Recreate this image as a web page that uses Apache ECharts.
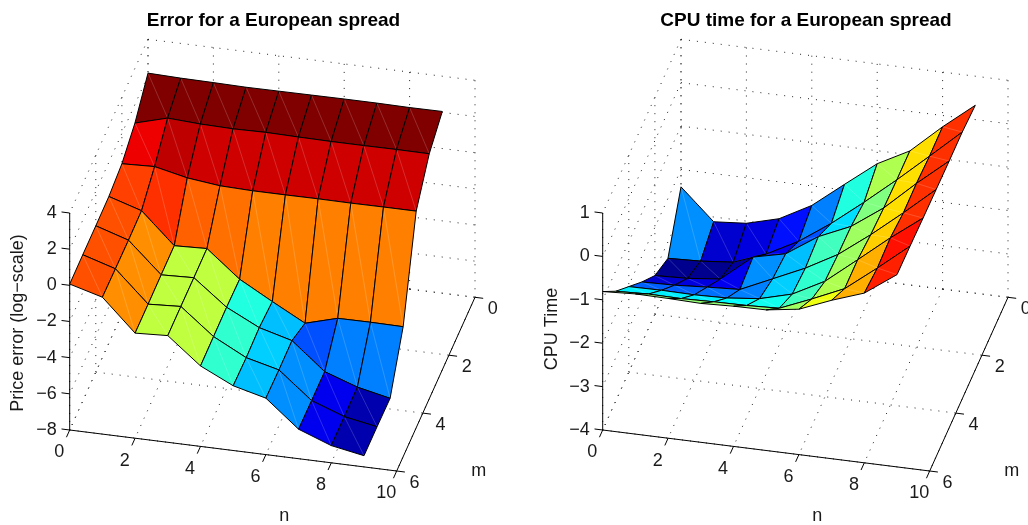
<!DOCTYPE html>
<html><head><meta charset="utf-8">
<style>html,body{margin:0;padding:0;background:#fff}#c{width:1028px;height:525px}</style>
<script src="https://cdn.jsdelivr.net/npm/echarts@6/dist/echarts.min.js"></script>
</head><body><div id="c"></div>
<script>
// ---- tick values and labels ----
const nTicks = [0, 2, 4, 6, 8, 10];
const mTicks = [0, 2, 4, 6];
const errorZTicks = [-8, -6, -4, -2, 0, 2, 4];
const cpuZTicks = [-4, -3, -2, -1, 0, 1];

// ---- Price error (log-scale), one row per m (0..6), one value per n (0..9) ----
const errorM0 = [2.13, 2.08, 2.06, 2.03, 2.04, 2.05, 2.06, 2.06, 2.04, 2.05];
const errorM1 = [0.97, 1.47, 1.37, 1.33, 1.36, 1.33, 1.31, 1.31, 1.32, 1.31];
const errorM2 = [0.32, 0.39, -0.01, -0.22, -0.27, -0.27, -0.26, -0.27, -0.26, -0.26];
const errorM3 = [0.11, -0.45, -2.16, -2.09, -3.56, -4.57, -5.54, -5.04, -5.03, -5.05];
const errorM4 = [0.09, -0.48, -2.17, -2.10, -3.51, -4.41, -4.90, -6.39, -7.02, -7.41];
const errorM5 = [0.09, -0.46, -2.19, -2.09, -3.53, -4.47, -4.92, -6.39, -7.05, -7.38];
const errorM6 = [0.07, -0.43, -2.19, -2.10, -3.55, -4.42, -4.88, -6.37, -7.05, -7.38];

// ---- CPU time, one row per m (0..6), one value per n (0..9) ----
const cpuM0 = [-2.40, -3.11, -3.05, -2.85, -2.45, -1.87, -1.30, -0.91, -0.26, 0.33];
const cpuM1 = [-3.38, -3.35, -3.28, -3.00, -2.61, -2.10, -1.52, -0.91, -0.27, 0.38];
const cpuM2 = [-3.11, -3.08, -3.00, -2.40, -2.23, -1.74, -1.41, -0.89, -0.23, 0.38];
const cpuM3 = [-2.59, -2.57, -2.52, -2.48, -2.14, -1.80, -1.39, -0.84, -0.24, 0.39];
const cpuM4 = [-2.03, -2.02, -2.03, -2.01, -1.93, -1.73, -1.34, -0.75, -0.15, 0.40];
const cpuM5 = [-1.47, -1.44, -1.45, -1.43, -1.42, -1.39, -1.08, -0.75, -0.18, 0.42];
const cpuM6 = [-0.81, -0.77, -0.78, -0.80, -0.77, -0.76, -0.65, -0.35, -0.09, 0.43];

const errorRows = [errorM0, errorM1, errorM2, errorM3, errorM4, errorM5, errorM6];
const cpuRows = [cpuM0, cpuM1, cpuM2, cpuM3, cpuM4, cpuM5, cpuM6];

// ---- view of the 3-D box, in projection units (one unit is one pixel on the grid) ----
const N_SPAN = [327, -41], M_SPAN = [78.3, 173.7], Z_SPAN = 217;
const N_MAX = 10, M_MAX = 6;
const FONT = '"Liberation Sans", Arial, Helvetica, sans-serif';
const TICK_FONT = 18, TITLE_FONT = 19;

function jet(t) {
  const i = Math.min(63, Math.max(0, Math.floor(t * 64))) + 1, v = i / 64;
  const c = x => Math.round(255 * Math.max(0, Math.min(1, x)));
  return 'rgb(' + c(Math.min(4 * v - 1.5, -4 * v + 4.5)) + ',' + c(Math.min(4 * v - 0.5, -4 * v + 3.5)) + ',' + c(Math.min(4 * v + 0.5, -4 * v + 2.5)) + ')';
}

function makeProjector(zMin, zMax) {
  return function (n, m, z) {
    const a = n / N_MAX, b = 1 - m / M_MAX, c = (z - zMin) / (zMax - zMin);
    return [a * N_SPAN[0] + b * M_SPAN[0], a * N_SPAN[1] + b * M_SPAN[1] + c * Z_SPAN];
  };
}

function chartSeries(index, rows, zTicks, zTitle, zTitleDx, zTitleDy, mTitle, nTitle) {
  const zMin = zTicks[0], zMax = zTicks[zTicks.length - 1];
  const P = makeProjector(zMin, zMax);
  const all = rows.flat();
  const cMin = Math.min(...all), cMax = Math.max(...all);

  // dotted grid and solid axes
  const lines = [];
  nTicks.forEach(n => {
    lines.push([n, 0, zMin, n, M_MAX, zMin, 1]);
    lines.push([n, 0, zMin, n, 0, zMax, 1]);
    lines.push([n, M_MAX, zMin, n, M_MAX + 0.25, zMin, 0]);
  });
  mTicks.forEach(m => {
    lines.push([0, m, zMin, N_MAX, m, zMin, 1]);
    lines.push([0, m, zMin, 0, m, zMax, 1]);
    lines.push([N_MAX, m, zMin, N_MAX + 0.25, m, zMin, 0]);
  });
  zTicks.forEach(z => {
    lines.push([0, 0, z, N_MAX, 0, z, 1]);
    lines.push([0, 0, z, 0, M_MAX, z, 1]);
    lines.push([0, M_MAX, z, -0.25, M_MAX, z, 0]);
  });
  lines.push([0, M_MAX, zMin, N_MAX, M_MAX, zMin, 0]);
  lines.push([N_MAX, 0, zMin, N_MAX, M_MAX, zMin, 0]);
  lines.push([0, M_MAX, zMin, 0, M_MAX, zMax, 0]);

  const faces = [];
  for (let m = 0; m < rows.length - 1; m++)
    for (let n = 0; n < rows[m].length - 1; n++)
      faces.push([n, m, rows[m][n], rows[m][n + 1], rows[m + 1][n + 1], rows[m + 1][n]]);

  const labels = [];
  const f = s => String(s).replace('-', '\u2212');
  nTicks.forEach(n => labels.push({ p: [n, M_MAX, zMin], dx: -10.4, dy: 22.4, s: f(n), align: 'center' }));
  mTicks.forEach(m => labels.push({ p: [N_MAX, m, zMin], dx: 17.8, dy: 12, s: f(m), align: 'center' }));
  zTicks.forEach(z => labels.push({ p: [0, M_MAX, z], dx: -13, dy: 0, s: f(z), align: 'right' }));
  labels.push({ p: [N_MAX / 2, M_MAX, zMin], dx: 51, dy: 66, s: nTitle, align: 'center' });
  labels.push({ p: [N_MAX, M_MAX / 2, zMin], dx: 43, dy: 87, s: mTitle, align: 'center' });
  labels.push({ p: [0, M_MAX, zMin], dx: zTitleDx, dy: zTitleDy, s: zTitle, align: 'center', rot: 90 });

  const base = { type: 'custom', xAxisIndex: index, yAxisIndex: index, silent: true, animation: false, coordinateSystem: 'cartesian2d', clip: false };
  const pt = (api, n, m, z) => api.coord(P(n, m, z));

  return [
    Object.assign({}, base, {
      name: 'axes' + index, data: lines.map((l, i) => [l[0], l[1], i]), encode: { x: 0, y: 1 }, z: 1,
      renderItem(params, api) {
        const l = lines[api.value(2)], a = pt(api, l[0], l[1], l[2]), b = pt(api, l[3], l[4], l[5]);
        return { type: 'line', shape: { x1: a[0], y1: a[1], x2: b[0], y2: b[1] },
          style: l[6] ? { stroke: '#222', lineWidth: 1, lineDash: [1, 7] } : { stroke: '#000', lineWidth: 1 } };
      }
    }),
    Object.assign({}, base, {
      name: 'surface' + index, data: faces, encode: { x: 0, y: 1 }, z: 2,
      renderItem(params, api) {
        const n = api.value(0), m = api.value(1);
        const a = pt(api, n, m, api.value(2)), b = pt(api, n + 1, m, api.value(3));
        const c = pt(api, n + 1, m + 1, api.value(4)), d = pt(api, n, m + 1, api.value(5));
        const points = [a, b, c, d];
        return { type: 'group', children: [
          { type: 'polygon', shape: { points }, style: { fill: jet((api.value(2) - cMin) / (cMax - cMin)), stroke: null } },
          { type: 'line', shape: { x1: a[0], y1: a[1], x2: c[0], y2: c[1] }, style: { stroke: 'rgba(255,255,255,0.22)', lineWidth: 0.8 } },
          { type: 'polygon', shape: { points }, style: { fill: 'none', stroke: '#000', lineWidth: 1, lineJoin: 'round' } }
        ] };
      }
    }),
    Object.assign({}, base, {
      name: 'labels' + index, data: labels.map((l, i) => [l.p[0], l.p[1], i]), encode: { x: 0, y: 1 }, z: 3,
      renderItem(params, api) {
        const l = labels[api.value(2)], a = pt(api, l.p[0], l.p[1], l.p[2]);
        return { type: 'text', x: a[0] + l.dx, y: a[1] + l.dy, rotation: l.rot ? Math.PI / 2 : 0,
          style: { text: l.s, fill: '#1a1a1a', font: TICK_FONT + 'px ' + FONT, textAlign: l.align, textVerticalAlign: 'middle' } };
      }
    })
  ];
}

const ORIGIN_Y = 430, ORIGINS_X = [69.7, 602.7];
const W = N_SPAN[0] + M_SPAN[0], H = -N_SPAN[1] + M_SPAN[1] + Z_SPAN;
const hiddenX = { type: 'value', min: 0, max: W, show: false };
const hiddenY = { type: 'value', min: N_SPAN[1], max: M_SPAN[1] + Z_SPAN, show: false };
const topY = ORIGIN_Y - (M_SPAN[1] + Z_SPAN);

const titleStyle = { color: '#000', fontFamily: FONT, fontWeight: 'bold', fontSize: TITLE_FONT };
const option = {
  backgroundColor: '#fff',
  animation: false,
  title: [
    { text: 'Error for a European spread', left: 268.5, top: 16, textAlign: 'center', textVerticalAlign: 'middle', textStyle: titleStyle },
    { text: 'CPU time for a European spread', left: 801, top: 16, textAlign: 'center', textVerticalAlign: 'middle', textStyle: titleStyle }
  ],
  grid: ORIGINS_X.map(x => ({ left: x, top: topY, width: W, height: H })),
  xAxis: [Object.assign({ gridIndex: 0 }, hiddenX), Object.assign({ gridIndex: 1 }, hiddenX)],
  yAxis: [Object.assign({ gridIndex: 0 }, hiddenY), Object.assign({ gridIndex: 1 }, hiddenY)],
  series: [
    ...chartSeries(0, errorRows, errorZTicks, 'Price error (log\u2212scale)', -52, -107, 'm', 'n'),
    ...chartSeries(1, cpuRows, cpuZTicks, 'CPU Time', -50.5, -101, 'm', 'n')
  ]
};
echarts.init(document.getElementById('c'), null, { renderer: 'canvas' }).setOption(option);
</script></body></html>
